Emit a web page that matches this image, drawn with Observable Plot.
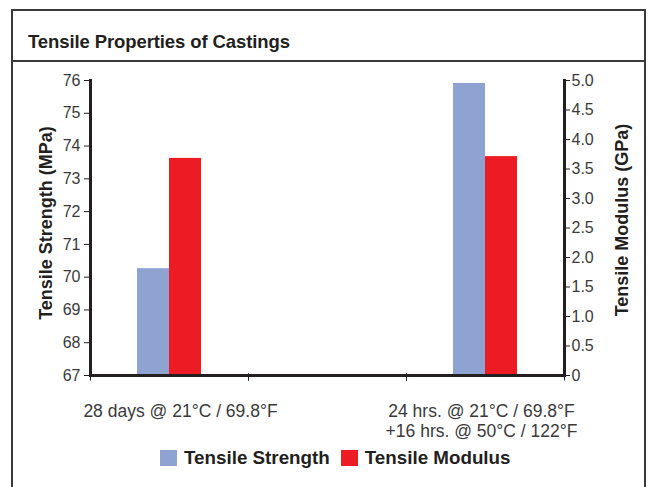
<!DOCTYPE html>
<html>
<head>
<meta charset="utf-8">
<script src="https://cdn.jsdelivr.net/npm/d3@7"></script>
<script src="https://cdn.jsdelivr.net/npm/@observablehq/plot@0.6"></script>
<style>
  html, body { margin: 0; padding: 0; background: #fff; }
  body { width: 651px; height: 487px; overflow: hidden; position: relative; font-family: "Liberation Sans", Arial, sans-serif; }
  #frame { position: absolute; left: 11px; top: 9px; width: 635px; height: 520px; box-sizing: border-box; border: 2px solid #3a3a3a; }
  #divider { position: absolute; left: 11px; top: 60px; width: 635px; height: 2px; background: #3a3a3a; }
  #title { position: absolute; left: 28px; top: 31px; font-size: 18.5px; line-height: 22px; font-weight: bold; color: #231f20; letter-spacing: -0.1px; }
  #chart { position: absolute; left: 0; top: 62px; }
  #legend { position: absolute; left: 160px; top: 447px; display: flex; align-items: center; font-size: 18.8px; line-height: 22px; font-weight: bold; color: #231f20; }
  .sw { width: 17px; height: 16px; display: inline-block; margin-right: 7px; }
  .item { display: flex; align-items: center; margin-right: 11px; }
</style>
</head>
<body>
<div id="frame"></div>
<div id="divider"></div>
<div id="title">Tensile Properties of Castings</div>
<div id="chart"></div>
<div id="legend"></div>
<script>
// ---- data ----
const conditions = ["28 days @ 21°C / 69.8°F", " ", "24 hrs. @ 21°C / 69.8°F\n+16 hrs. @ 50°C / 122°F"];
const seriesNames = ["Tensile Strength", "Tensile Modulus"];
const strengthMPa = [70.26, null, 75.91];
const modulusGPa = [3.68, null, 3.71];
const strengthTicks = [67, 68, 69, 70, 71, 72, 73, 74, 75, 76];
const modulusTicks = [0, 0.5, 1.0, 1.5, 2.0, 2.5, 3.0, 3.5, 4.0, 4.5, 5.0];
const seriesColors = ["#8FA3D3", "#ED1C24"];

// secondary axis mapping: modulus [0,5] -> strength [67,76]
const sMin = strengthTicks[0], sMax = strengthTicks[strengthTicks.length - 1];
const mMin = modulusTicks[0], mMax = modulusTicks[modulusTicks.length - 1];
const toS = m => sMin + (m - mMin) * (sMax - sMin) / (mMax - mMin);
const toM = s => mMin + (s - sMin) * (mMax - mMin) / (sMax - sMin);

// every category gets rows (empty middle category keeps its facet non-empty)
const rows = [];
conditions.forEach((c, i) => {
  rows.push({cond: c, series: seriesNames[0], y: strengthMPa[i] == null ? NaN : strengthMPa[i]});
  rows.push({cond: c, series: seriesNames[1], y: modulusGPa[i] == null ? NaN : toS(modulusGPa[i])});
});

const ink = "#231f20";
const textInk = "#3a3a3a";
const tickDown = {draw(ctx) { ctx.moveTo(0, -2); ctx.lineTo(0, 5); }};
const catLabel = (cond, dx) => Plot.text([cond], {
  fx: d => d, text: d => d, frameAnchor: "bottom", textAnchor: "middle", lineAnchor: "top",
  dy: 27, dx, fontSize: 17.5, lineHeight: 1.15, fill: textInk
});

const chart = Plot.plot({
  width: 651,
  height: 383,
  marginTop: 18,
  marginLeft: 89,
  marginRight: 86,
  marginBottom: 70,
  style: {fontFamily: "'Liberation Sans', Arial, sans-serif", background: "transparent", color: ink},
  fx: {domain: conditions, padding: 0, label: null, axis: null},
  x: {domain: seriesNames, paddingInner: 0, paddingOuter: 1.4, axis: null},
  y: {domain: [sMin, sMax]},
  color: {domain: seriesNames, range: seriesColors},
  marks: [
    Plot.barY(rows, {fx: "cond", x: "series", y1: sMin, y2: "y", fill: "series"}),
    Plot.dot([0], {x: null, y: null, frameAnchor: "bottom-left", symbol: tickDown, stroke: ink, strokeWidth: 1, fill: "none"}),
    Plot.dot([0], {x: null, y: null, frameAnchor: "bottom-right", symbol: tickDown, stroke: ink, strokeWidth: 1, fill: "none"}),
    Plot.frame({anchor: "bottom", stroke: ink, strokeWidth: 3}),
    Plot.frame({anchor: "left", facetAnchor: "left", stroke: ink, strokeWidth: 3}),
    Plot.frame({anchor: "right", facetAnchor: "right", stroke: ink, strokeWidth: 3}),
    Plot.axisY(strengthTicks, {anchor: "left", tickSize: 6, tickPadding: 4, fontSize: 16, fill: textInk, stroke: ink, label: null, tickFormat: d => String(d)}),
    Plot.axisY(modulusTicks.map(toS), {anchor: "right", tickSize: 5, tickPadding: 2, fontSize: 16, fill: textInk, stroke: ink, label: null,
      tickFormat: s => { const m = toM(s); return Math.abs(m) < 1e-9 ? "0" : m.toFixed(1); }}),
    catLabel(conditions[0], 11),
    catLabel(conditions[2], -4),
    Plot.text(["Tensile Strength (MPa)"], {text: d => d, frameAnchor: "left", facetAnchor: "left", textAnchor: "middle", rotate: -90, dx: -44.5, dy: -5, fontSize: 18, fontWeight: "bold", fill: ink}),
    Plot.text(["Tensile Modulus (GPa)"], {text: d => d, frameAnchor: "right", facetAnchor: "right", textAnchor: "middle", rotate: -90, dx: 57.5, dy: -8, fontSize: 18, fontWeight: "bold", fill: ink})
  ]
});
document.getElementById("chart").appendChild(chart);

const legend = document.getElementById("legend");
seriesNames.forEach((name, i) => {
  const item = document.createElement("div");
  item.className = "item";
  const sw = document.createElement("span");
  sw.className = "sw";
  sw.style.background = seriesColors[i];
  item.appendChild(sw);
  item.appendChild(document.createTextNode(name));
  legend.appendChild(item);
});
</script>
</body>
</html>
